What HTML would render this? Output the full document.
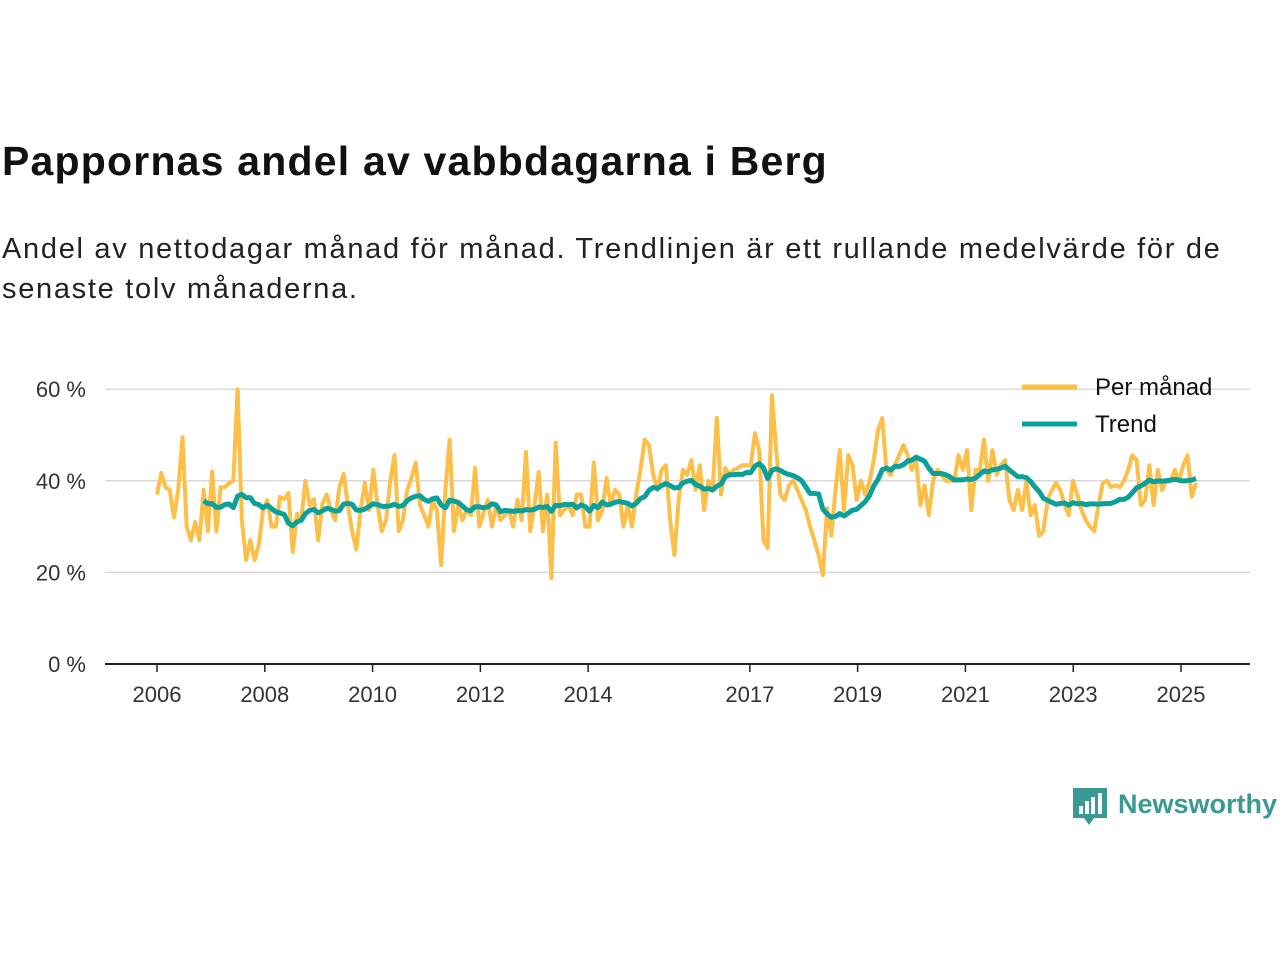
<!DOCTYPE html>
<html><head><meta charset="utf-8">
<style>
body{margin:0;background:#fff;font-family:"Liberation Sans",sans-serif;}
#wrap{position:relative;width:1280px;height:960px;overflow:hidden;}
h1{position:absolute;left:2px;top:138px;margin:0;font-size:41px;font-weight:bold;color:#111;letter-spacing:1.2px;}
p.sub{position:absolute;left:2px;top:229px;margin:0;font-size:29px;line-height:40px;color:#222;width:1250px;letter-spacing:1.7px;}
</style></head>
<body>
<div id="wrap">
<h1>Pappornas andel av vabbdagarna i Berg</h1>
<p class="sub">Andel av nettodagar månad för månad. Trendlinjen är ett rullande medelvärde för de senaste tolv månaderna.</p>
<svg id="chart" width="1280" height="960" style="position:absolute;left:0;top:0"></svg>
</div>
<script>
const yTicks=[0,20,40,60];
const xTickYears=[2006,2008,2010,2012,2014,2017,2019,2021,2023,2025];
const seriesNames=["Per månad","Trend"];
const monthly=[
37,41.7,38.6,38,32,38,49.5,30,27,31,27,38,
29,42,29,38.6,38.6,39.5,40,60,31.5,22.7,27,22.7,
26,33.6,35.8,30,30,36.5,36,37.3,24.5,32.8,31.4,40,
34.7,36,27,35,37,33.6,31.4,38.6,41.5,34.7,29,25,
33.6,39.5,33.6,42.4,34.7,29,31.4,40,45.6,29,31.4,38,
40.6,44,34.7,32.5,30,35.8,33.6,21.6,38,49,29,34.7,
31.4,33.6,32.5,42.8,30,33,35.8,30,34.7,31.4,32.5,33.6,
30,35.8,31.4,46.3,29,34.7,41.9,29,37,18.8,48.3,32.5,
33.6,34.7,32.5,37,37,30,30,44,31.4,33.6,40.6,34.7,
38,37,30,34.7,30,37,42.4,49,47.8,41.3,38,42.4,
43.4,31.4,23.8,35.8,42.4,41.3,44.5,38,43.4,33.6,40,38,
53.7,37,42.8,41.3,42.4,42.8,43.4,43.4,43.4,50.4,46.7,27,
25.3,58.7,46.7,37,35.8,39,40,38,35.8,33.6,30,27,
23.8,19.4,34,28,38,46.7,33.6,45.6,43.4,35.8,40,37,
39.7,44.5,51,53.7,42.4,41.3,43.4,45.6,47.8,45.6,42.4,44.5,
34.7,39,32.5,40,42.4,41.3,40,40,40,45.6,42.4,46.7,
33.6,42.4,42.4,49,40,46.7,41.3,43.4,44.5,35.8,33.6,38,
33.6,40,32.5,34.7,28,29,35.8,38,39.5,38,34.7,32.5,
40,37,33.6,31.4,30,29,34.7,39.5,40,38.6,39,38.6,
40,42.4,45.6,44.5,34.7,35.8,43.4,34.7,42.4,38,40,40,
42.4,40,43.4,45.6,36.5,39.5
];
const NS="http://www.w3.org/2000/svg";
const svg=document.getElementById('chart');
const X0=105,X1=1250;
function yScale(v){return 664-v*4.58;}
function xScale(i){return 157+i*(1196-157)/(monthly.length-1);}
function xYear(y){return 157+(y-2006)*(1181-157)/19;}
function mk(tag,attrs,parent){const e=document.createElementNS(NS,tag);for(const k in attrs)e.setAttribute(k,attrs[k]);(parent||svg).appendChild(e);return e;}
yTicks.forEach(t=>{
  const g=mk('g',{});
  
  
  if(t>0){mk('line',{x1:X0,x2:X1,y1:yScale(t),y2:yScale(t),stroke:'#d9d9d9','stroke-width':1.5},g);}
  const tx=mk('text',{x:86,y:yScale(t)+8,'text-anchor':'end','font-size':22,fill:'#333','font-family':'Liberation Sans, sans-serif'},g);
  tx.textContent=t+' %';
});
const ax=mk('line',{x1:X0,x2:X1,y1:664,y2:664,stroke:'#222','stroke-width':2});


xTickYears.forEach(y=>{
  const g=mk('g',{});
  
  
  mk('line',{x1:xYear(y),x2:xYear(y),y1:664,y2:672,stroke:'#222','stroke-width':1.5},g);
  const tx=mk('text',{x:xYear(y),y:702,'text-anchor':'middle','font-size':22,fill:'#333','font-family':'Liberation Sans, sans-serif'},g);
  tx.textContent=y;
});
const trend=[];
for(let i=11;i<monthly.length;i++){let s=0;for(let j=i-11;j<=i;j++)s+=monthly[j];trend.push([i,s/12]);}
const p1=mk('polyline',{points:monthly.map((v,i)=>xScale(i)+','+yScale(v)).join(' '),fill:'none',stroke:'#fdbf48','stroke-width':4,'stroke-linejoin':'round'});


const p2=mk('polyline',{points:trend.map(d=>xScale(d[0])+','+yScale(d[1])).join(' '),fill:'none',stroke:'#0ca09a','stroke-width':5,'stroke-linejoin':'round'});


const legColors=['#fdbf48','#0ca09a'];
seriesNames.forEach((n,k)=>{
  const g=mk('g',{});
  
  
  const y=387+k*37;
  mk('line',{x1:1022,x2:1077,y1:y,y2:y,stroke:legColors[k],'stroke-width':5},g);
  const tx=mk('text',{x:1095,y:y+8,'font-size':24,fill:'#111','font-family':'Liberation Sans, sans-serif'},g);
  tx.textContent=n;
});
const lg=mk('g',{});


mk('path',{d:'M1073 788 h34 v30 h-13 l-5 7 l-5 -7 h-11 z',fill:'#3a9a93'},lg);
[[1079,806,8],[1085,801,13],[1091,797,17],[1098,793,21]].forEach(b=>mk('rect',{x:b[0],y:b[1],width:4,height:b[2],fill:'#fff'},lg));
const lt=mk('text',{x:1118,y:813,'font-size':27,'font-weight':'bold',fill:'#3a9a93','font-family':'Liberation Sans, sans-serif'},lg);
lt.textContent='Newsworthy';
</script>
</body></html>
